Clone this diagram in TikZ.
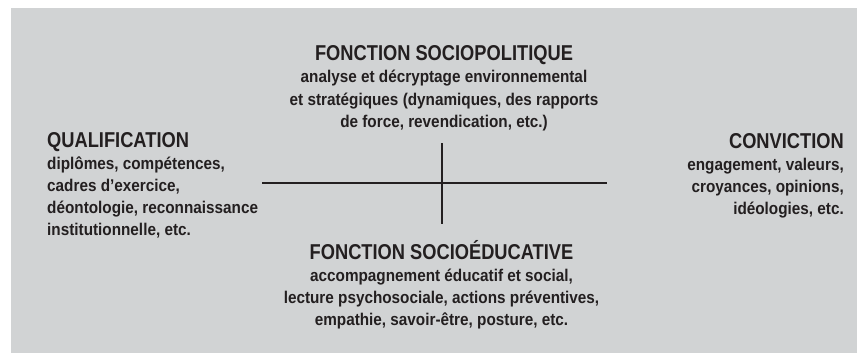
\documentclass[tikz,border=0pt]{standalone}
\usepackage{fontspec}
\setmainfont{Liberation Sans}[FakeStretch=0.90]
\newfontfamily\ttlfamily{Liberation Sans}[FakeStretch=0.85]
\definecolor{bg}{HTML}{D1D3D4}
\definecolor{ink}{HTML}{231F20}
\begin{document}
\begin{tikzpicture}[x=1pt,y=-1pt,
  blk/.style={inner sep=0pt, anchor=base, text=ink, font=\bfseries\fontsize{17}{22}\selectfont},
  axis/.style={draw=ink, line width=1.3pt}]
\useasboundingbox (0,0) rectangle (857,353);
\fill[bg] (11,8) rectangle (857,353);
\newcommand{\ttlfont}{\ttlfamily\bfseries\fontsize{21.5}{22}\selectfont}
% crosshair
\coordinate (hl) at (262,183);
\coordinate (hr) at (607,183);
\coordinate (vt) at (442,143);
\coordinate (vb) at (442,224);
\draw[axis] (hl) -- (hr);
\draw[axis] (vt) -- (vb);
% top
\node[blk] (top) at (444,61) {\begin{tabular}[t]{@{}c@{}}{\ttlfont FONCTION SOCIOPOLITIQUE}\\
analyse et décryptage environnemental\\
et stratégiques (dynamiques, des rapports\\
de force, revendication, etc.)\end{tabular}};
% bottom
\node[blk] (bot) at (441.5,259) {\begin{tabular}[t]{@{}c@{}}{\ttlfont FONCTION SOCIOÉDUCATIVE}\\
accompagnement éducatif et social,\\
lecture psychosociale, actions préventives,\\
empathie, savoir-être, posture, etc.\end{tabular}};
% left
\node[blk, anchor=base west] (left) at (47,147.5) {\begin{tabular}[t]{@{}l@{}}{\ttlfont QUALIFICATION}\\
diplômes, compétences,\\
cadres d’exercice,\\
déontologie, reconnaissance\\
institutionnelle, etc.\end{tabular}};
% right
\node[blk, anchor=base east] (right) at (844,148.5) {\begin{tabular}[t]{@{}r@{}}{\ttlfont CONVICTION}\\
engagement, valeurs,\\
croyances, opinions,\\
idéologies, etc.\end{tabular}};
\end{tikzpicture}
\end{document}
